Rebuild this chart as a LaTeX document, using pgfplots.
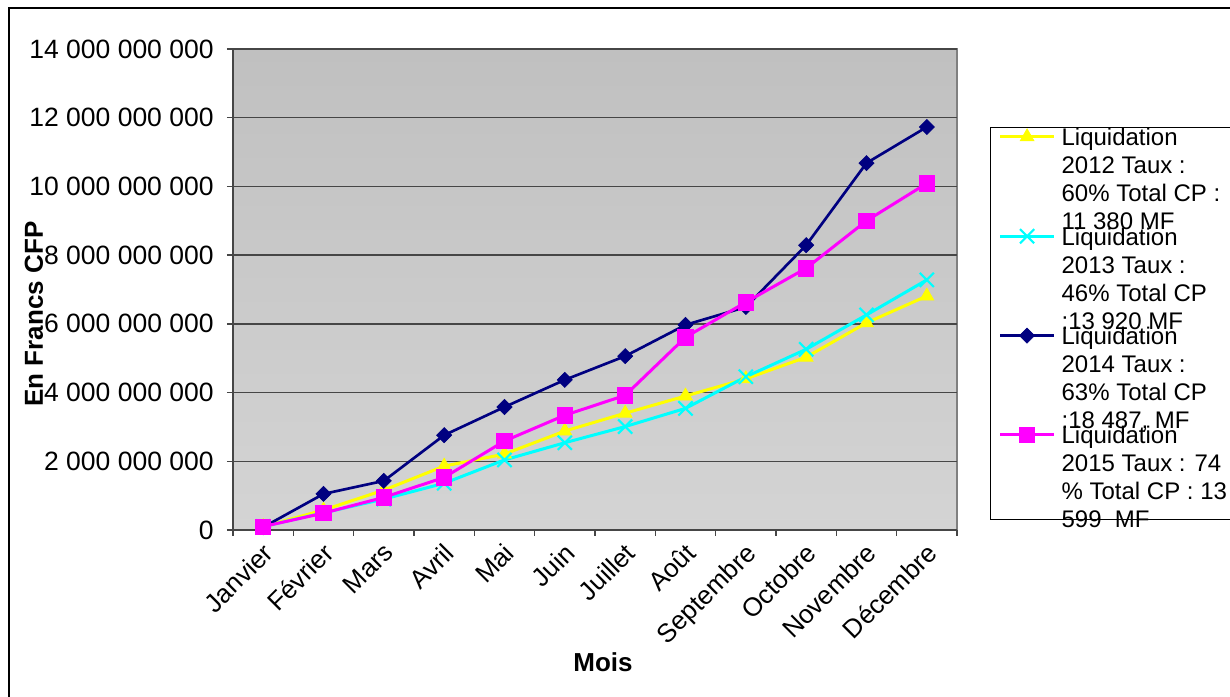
\documentclass[border=0pt]{standalone}
\usepackage{pgfplots}
\usepackage{pgfplotstable}
\pgfplotsset{compat=1.18}
\usepackage{fontspec}
\setmainfont{Liberation Sans}
\definecolor{cyel}{RGB}{255,255,0}
\definecolor{ccya}{RGB}{0,255,255}
\definecolor{cnav}{RGB}{0,0,128}
\definecolor{cmag}{RGB}{255,0,255}
\definecolor{gridc}{RGB}{70,70,70}
\definecolor{bordc}{RGB}{128,128,128}
\definecolor{bgtop}{RGB}{192,192,192}
\definecolor{bgbot}{RGB}{212,212,212}
\newcommand{\lentry}[2]{\raisebox{0pt}[\height][0pt]{\parbox[t]{130pt}{#1}}\rule[-#2]{0pt}{1pt}\hspace*{40pt}}
\pgfplotstableread{
x y
0 100000000
1 580000000
2 1160000000
3 1860000000
4 2210000000
5 2880000000
6 3400000000
7 3900000000
8 4400000000
9 5030000000
10 6030000000
11 6810000000
}\dataA
\pgfplotstableread{
x y
0 100000000
1 500000000
2 900000000
3 1360000000
4 2040000000
5 2540000000
6 3010000000
7 3540000000
8 4460000000
9 5260000000
10 6260000000
11 7280000000
}\dataB
\pgfplotstableread{
x y
0 80000000
1 1050000000
2 1430000000
3 2760000000
4 3580000000
5 4370000000
6 5060000000
7 5970000000
8 6490000000
9 8290000000
10 10680000000
11 11730000000
}\dataC
\pgfplotstableread{
x y
0 100000000
1 490000000
2 950000000
3 1530000000
4 2590000000
5 3340000000
6 3920000000
7 5610000000
8 6630000000
9 7620000000
10 9000000000
11 10090000000
}\dataD
\begin{document}
\begin{tikzpicture}[x=0.6pt,y=0.6pt]
\useasboundingbox (0,0) rectangle (1230,697);
\draw[line width=0.7pt,black] (9,-20) rectangle (1250,689);
\begin{axis}[
  at={(139.8pt,100.2pt)}, anchor=south west,
  scale only axis, width=434.4pt, height=288.6pt,
  xmin=-0.5, xmax=11.5, ymin=0, ymax=14000000000,
  xtick={0,...,11},
  xticklabels={Janvier,Février,Mars,Avril,Mai,Juin,Juillet,Août,Septembre,Octobre,Novembre,Décembre},
  minor xtick={-0.5,0.5,...,11.5},
  ytick={0,2000000000,4000000000,6000000000,8000000000,10000000000,12000000000,14000000000},
  yticklabels={0,{2 000 000 000},{4 000 000 000},{6 000 000 000},{8 000 000 000},{10 000 000 000},{12 000 000 000},{14 000 000 000}},
  scaled y ticks=false,
  /pgf/number format/assume math mode=true,
  tick align=outside, major tick length=3.6pt, minor tick length=3.6pt,
  major x tick style={draw=none},
  tick style={line width=0.8pt, color=gridc},
  ymajorgrids, major grid style={line width=0.9pt, color=gridc},
  axis x line*=bottom, axis y line*=left,
  axis line style={-, line width=1.1pt, color=gridc},
  axis background/.style={shade, top color=bgtop, bottom color=bgbot, draw=bordc, line width=1.2pt},
  xticklabel style={rotate=45, anchor=north east, font=\fontsize{15.6}{17}\selectfont, inner sep=1pt, xshift=-2pt, yshift=-0.5pt},
  yticklabel style={font=\fontsize{15.9}{17}\selectfont, xshift=-4.5pt},
  xlabel={Mois},
  xlabel style={at={(axis description cs:0.511,-0.274)}, anchor=center, font=\bfseries\fontsize{15.6}{18}\selectfont},
  ylabel={En Francs CFP},
  ylabel style={at={(axis description cs:-0.275,0.449)}, anchor=center, rotate=0, font=\bfseries\fontsize{15.6}{18}\selectfont},
  legend style={at={(axis description cs:1.0456,0.8378)}, anchor=north west, draw=black, line width=0.7pt, fill=white,
    font=\fontsize{14.4}{16.8}\selectfont, inner xsep=4.8pt, inner ysep=0.5pt, row sep=0pt, column sep=3.6pt,
    nodes={inner sep=0pt, anchor=base west, text depth=, text height=}},
  legend cell align=left,
  legend image code/.code={\draw[mark repeat=2,mark phase=2] plot coordinates {(0pt,5.4pt)(16.2pt,5.4pt)(32.4pt,5.4pt)};},
]
\addplot[cyel, line width=1.8pt, mark=triangle*, mark size=4.8pt, mark options={solid, line width=0.4pt, fill=cyel}] table[x=x,y=y] {\dataA};
\addlegendentry{\lentry{Liquidation\\2012 Taux :\\60\% Total CP :\\11 380 MF}{49.2pt}}
\addplot[ccya, line width=1.8pt, mark=x, mark size=6pt, mark options={solid, line width=1.3pt}] table[x=x,y=y] {\dataB};
\addlegendentry{\lentry{Liquidation\\2013 Taux :\\46\% Total CP\\:13 920 MF}{49.2pt}}
\addplot[cnav, line width=1.6pt, mark=square*, mark size=3.2pt, mark options={solid, rotate=45, line width=0.4pt, fill=cnav}] table[x=x,y=y] {\dataC};
\addlegendentry{\lentry{Liquidation\\2014 Taux :\\63\% Total CP\\:18 487, MF}{49.2pt}}
\addplot[cmag, line width=1.8pt, mark=square*, mark size=4.6pt, mark options={solid, line width=0.4pt, fill=cmag}] table[x=x,y=y] {\dataD};
\addlegendentry{\lentry{Liquidation\\2015 Taux : 74\\\% Total CP : 13\\599\ \ MF}{45pt}}
\end{axis}
\end{tikzpicture}
\end{document}
